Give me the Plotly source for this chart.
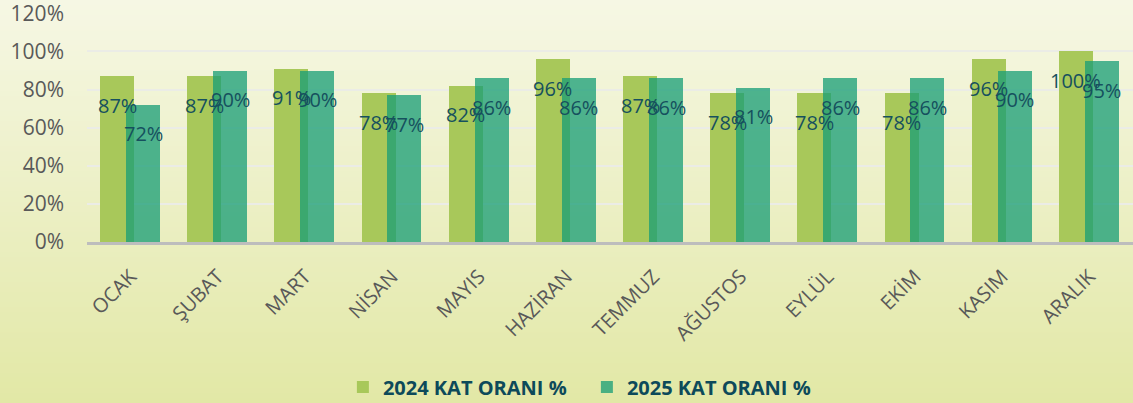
import plotly.graph_objects as go

months = ["OCAK", "ŞUBAT", "MART", "NİSAN", "MAYIS", "HAZİRAN", "TEMMUZ",
          "AĞUSTOS", "EYLÜL", "EKİM", "KASIM", "ARALIK"]
rate_2024 = [87, 87, 91, 78, 82, 96, 87, 78, 78, 78, 96, 100]
rate_2025 = [72, 90, 90, 77, 86, 86, 86, 81, 86, 86, 90, 95]
name_2024 = "2024 KAT ORANI %"
name_2025 = "2025 KAT ORANI %"
y_ticks = [0, 20, 40, 60, 80, 100, 120]

W, H = 1133, 403
ML, MR, MT, MB = 87, 0, 13, 161
plot_w = W - ML - MR
plot_h = H - MT - MB

fig = go.Figure()
fig.add_trace(go.Bar(
    x=months, y=rate_2024, name=name_2024,
    marker=dict(color="#a8c85a", line=dict(width=0)),
    width=0.39, offset=-0.35,
))
fig.add_trace(go.Bar(
    x=months, y=rate_2025, name=name_2025,
    marker=dict(color="rgba(25,158,118,0.76)", line=dict(width=0)),
    width=0.39, offset=-0.053,
))

label_font = dict(family="Open Sans", size=20, color="#16505e")
annotations = []
for m, v in zip(months, rate_2024):
    annotations.append(dict(x=m, y=v, xref="x", yref="y", text=f"{v}%",
                            showarrow=False, xshift=-13.5, yshift=-29,
                            font=label_font))
for m, v in zip(months, rate_2025):
    annotations.append(dict(x=m, y=v, xref="x", yref="y", text=f"{v}%",
                            showarrow=False, xshift=12.5, yshift=-29,
                            font=label_font))

# vertical gradient background built from thin stripes
top = (246, 247, 228)
bot = (226, 232, 166)
n = 80
shapes = []
y_top_paper = (plot_h + MT) / plot_h
y_bot_paper = -MB / plot_h
x_left = -ML / plot_w
x_right = 1 + MR / plot_w + 0.01
for i in range(n):
    t = i / (n - 1)
    c = tuple(round(top[k] + (bot[k] - top[k]) * t) for k in range(3))
    y1 = y_top_paper - (y_top_paper - y_bot_paper) * i / n + (0.01 if i == 0 else 0)
    y0 = y_top_paper - (y_top_paper - y_bot_paper) * (i + 1) / n - 0.006
    shapes.append(dict(type="rect", xref="paper", yref="paper",
                       x0=x_left - 0.01, x1=x_right, y0=y0, y1=y1,
                       fillcolor=f"rgb{c}", line=dict(width=0), layer="below"))

fig.update_layout(
    width=W, height=H,
    margin=dict(l=ML, r=MR, t=MT, b=MB, pad=0, autoexpand=False),
    barmode="overlay",
    paper_bgcolor="rgb(236,240,198)",
    plot_bgcolor="rgba(0,0,0,0)",
    shapes=shapes,
    annotations=annotations,
    font=dict(family="Open Sans", color="#595959"),
    showlegend=True,
    legend=dict(orientation="h", xref="container", yref="container",
                x=0.518, y=0.04, xanchor="center", yanchor="middle",
                font=dict(family="Open Sans", size=20, color="#0d4a5a", weight="bold"),
                bgcolor="rgba(0,0,0,0)", entrywidth=199, itemwidth=30,
                traceorder="normal"),
    bargap=0,
)
fig.update_xaxes(
    type="category", showgrid=False, showline=True, linecolor="#bdbdbd",
    linewidth=3, tickangle=-45, tickfont=dict(size=20, color="#595959"),
    ticks="", range=[-0.5, 11.5], zeroline=False, automargin=False,
    ticklabelstandoff=12,
)
fig.update_yaxes(
    range=[0, 120.2], tickvals=y_ticks, ticktext=[f"{v}%" for v in y_ticks],
    showgrid=True, gridcolor="#ebece6", gridwidth=2, zeroline=False,
    tickfont=dict(size=21, color="#595959"), ticklabelstandoff=22,
    showline=False, automargin=False, ticklabeloverflow="allow",
)

fig.write_html("out.html", config={"displayModeBar": False},
               post_script="document.body.style.margin='0';document.body.style.overflow='hidden';")
